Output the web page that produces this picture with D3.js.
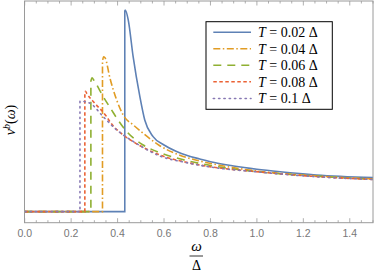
<!DOCTYPE html>
<html><head><meta charset="utf-8">
<script src="https://cdn.jsdelivr.net/npm/d3@7"></script>
<style>body{margin:0;background:#fff}svg{display:block}</style>
</head><body>
<svg id="c" width="374" height="271"></svg>
<script>
// ---- data ----
const seriesLabels = ["0.02", "0.04", "0.06", "0.08", "0.1"];
const onsets = [0.431, 0.335, 0.285, 0.259, 0.238];
const omegaT002 = [0.431, 0.433, 0.446, 0.467, 0.496, 0.517, 0.553, 0.600, 0.654, 0.700, 0.754, 0.800, 0.900, 1.000, 1.100, 1.256, 1.5];
const nuT002    = [2.00, 2.01, 1.91, 1.545, 1.147, 0.914, 0.748, 0.665, 0.600, 0.560, 0.525, 0.497, 0.455, 0.423, 0.398, 0.366, 0.339];
const omegaT004 = [0.335, 0.340, 0.347, 0.367, 0.396, 0.424, 0.470, 0.510, 0.580, 0.654, 0.754, 0.850, 0.998, 1.256, 1.5];
const nuT004    = [1.50, 1.545, 1.53, 1.333, 1.114, 0.964, 0.86, 0.782, 0.66, 0.575, 0.505, 0.458, 0.406, 0.356, 0.326];
const omegaT006 = [0.285, 0.290, 0.298, 0.338, 0.374, 0.396, 0.439, 0.510, 0.580, 0.654, 0.797, 0.998, 1.256, 1.5];
const nuT006    = [1.30, 1.335, 1.31, 1.147, 1.014, 0.934, 0.80, 0.665, 0.59, 0.535, 0.462, 0.399, 0.354, 0.323];
const omegaT008 = [0.259, 0.262, 0.267, 0.302, 0.353, 0.367, 0.424, 0.467, 0.582, 0.700, 0.797, 0.998, 1.256, 1.5];
const nuT008    = [1.19, 1.20, 1.18, 1.081, 0.947, 0.897, 0.765, 0.698, 0.565, 0.490, 0.449, 0.399, 0.350, 0.321];
const omegaT010 = [0.238, 0.243, 0.281, 0.338, 0.396, 0.424, 0.467, 0.582, 0.700, 0.797, 0.998, 1.256, 1.5];
const nuT010    = [1.10, 1.10, 1.081, 0.947, 0.815, 0.765, 0.70, 0.555, 0.487, 0.446, 0.397, 0.348, 0.320];
const xTickLabels = ["0.0", "0.2", "0.4", "0.6", "0.8", "1.0", "1.2", "1.4"];

const omegas = [omegaT002, omegaT004, omegaT006, omegaT008, omegaT010];
const nus = [nuT002, nuT004, nuT006, nuT008, nuT010];
const colors = ["#5E81B5", "#E19C24", "#8FB032", "#EB6235", "#8778B3"];
const dashes = [null, "7,2.5,1.5,2.5", "8,6", "3.5,2.5", "1.3,4"];

// ---- layout ----
const svg = d3.select("#c");
const L = 24.5, R = 373, T = 1, B = 222.7;
const x = d3.scaleLinear().domain([0, 1.5]).range([L + 0.2, R]);
const y = d3.scaleLinear().domain([-0.11, 2.1]).range([B, T]);
const frameCol = "#9a9a9a";

const plot = svg.append("g");
plot.append("clipPath").attr("id", "clip").append("rect")
  .attr("x", L).attr("y", T).attr("width", R - L).attr("height", B - T);

const lin = d3.line().x(d => x(d[0])).y(d => y(d[1]));
const cur = d3.line().x(d => x(d[0])).y(d => y(d[1])).curve(d3.curveMonotoneX);

const g = plot.append("g").attr("clip-path", "url(#clip)");
omegas.forEach((om, i) => {
  const step = [[0, 0], [onsets[i], 0], [om[0], nus[i][0]]];
  const tail = om.map((w, k) => [w, nus[i][k]]);
  const d = lin(step) + cur(tail).replace(/^M/, "L");
  g.append("path").attr("d", d).attr("fill", "none")
    .attr("stroke", colors[i]).attr("stroke-width", 1.6)
    .attr("stroke-dasharray", dashes[i]).attr("stroke-linecap", i === 4 ? "round" : "butt");
});

// frame
svg.append("rect").attr("x", L).attr("y", T).attr("width", R - L).attr("height", B - T)
  .attr("fill", "none").attr("stroke", frameCol).attr("stroke-width", 1);

// ticks
const minor = d3.range(0, 1.5001, 0.05);
minor.forEach((v, k) => {
  const major = k % 4 === 0;
  const len = major ? 4.5 : 2.5;
  svg.append("line").attr("x1", x(v)).attr("x2", x(v)).attr("y1", B).attr("y2", B - len)
    .attr("stroke", frameCol).attr("stroke-width", 0.8);
  svg.append("line").attr("x1", x(v)).attr("x2", x(v)).attr("y1", T).attr("y2", T + len)
    .attr("stroke", frameCol).attr("stroke-width", 0.8);
});
xTickLabels.forEach(t => {
  svg.append("text").attr("x", x(+t)).attr("y", 237).attr("text-anchor", "middle")
    .attr("font-family", "Liberation Sans, Arial, sans-serif").attr("font-size", 10.5)
    .attr("fill", "#777").text(t);
});

// axis labels
const serif = "Liberation Serif, Times New Roman, serif";
svg.append("text").attr("x", 196.5).attr("y", 250.5).attr("text-anchor", "middle")
  .attr("font-family", serif).attr("font-style", "italic").attr("font-size", 15).text("ω");
svg.append("line").attr("x1", 189.5).attr("x2", 203).attr("y1", 256).attr("y2", 256)
  .attr("stroke", "#000").attr("stroke-width", 0.8);
svg.append("text").attr("x", 196.5).attr("y", 269.5).attr("text-anchor", "middle")
  .attr("font-family", serif).attr("font-size", 14).text("Δ");

const yl = svg.append("text").attr("transform", "translate(14.5,120) rotate(-90)")
  .attr("text-anchor", "middle").attr("font-family", serif).attr("font-size", 14);
yl.append("tspan").attr("font-style", "italic").text("ν");
yl.append("tspan").attr("font-style", "italic").attr("font-size", 10).attr("dy", -5).text("b");
yl.append("tspan").attr("dy", 5).text("(");
yl.append("tspan").attr("font-style", "italic").text("ω");
yl.append("tspan").text(")");

// legend
const lg = svg.append("g");
lg.append("rect").attr("x", 206).attr("y", 21.7).attr("width", 126.3).attr("height", 87.6)
  .attr("fill", "#fff").attr("stroke", "#000").attr("stroke-width", 1);
const rowY = [32.3, 48.8, 65.3, 81.8, 98.5];
seriesLabels.forEach((lab, i) => {
  lg.append("line").attr("x1", 213.3).attr("x2", 251).attr("y1", rowY[i]).attr("y2", rowY[i])
    .attr("stroke", colors[i]).attr("stroke-width", 1.6)
    .attr("stroke-dasharray", dashes[i]).attr("stroke-linecap", i === 4 ? "round" : "butt");
  const t = lg.append("text").attr("x", 258).attr("y", rowY[i] + 4.8)
    .attr("font-family", serif).attr("font-size", 14);
  t.append("tspan").attr("font-style", "italic").text("T");
  t.append("tspan").text(" = " + lab + " Δ");
});
</script>
</body></html>
